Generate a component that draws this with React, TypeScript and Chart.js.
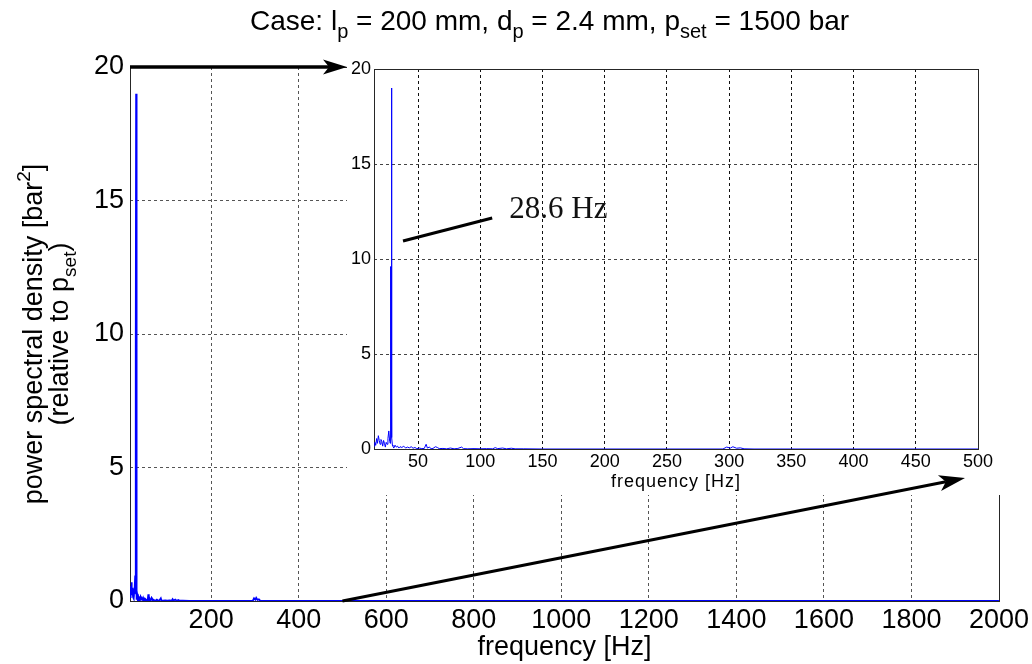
import React, { useEffect, useRef } from "react";
import { Chart, registerables } from "chart.js";

Chart.register(...registerables);

// ---------------- data ----------------
const frequencyHz = [
  14.6, 15.3, 16.0, 16.7, 17.4, 18.1, 18.8, 19.5, 20.2, 20.9,
  21.6, 22.3, 23.0, 23.7, 24.4, 25.1, 25.8, 26.5, 27.2, 27.6,
  27.9, 28.3, 28.6, 29.0, 29.4, 29.8, 30.5, 31.5, 32.5, 33.5,
  34.5, 35.5, 37, 38.5, 40, 41.5, 43, 44.5, 46, 47.5,
  49, 51, 53, 55, 56.5, 57.5, 59, 60.5, 62, 64,
  65.5, 67, 70, 73, 76, 79, 82, 85, 86.5, 90,
  95, 100, 105, 110, 112, 114, 118, 121, 125, 128,
  135, 150, 200, 250, 295, 298, 301, 303, 306, 309,
  312, 320, 500, 1000, 2000,
];
const psdRelative = [
  0.15, 0.35, 0.2, 0.55, 0.3, 0.7, 0.45, 0.25, 0.5, 0.4,
  0.15, 0.45, 0.3, 0.1, 0.35, 0.25, 0.55, 0.95, 0.4, 0.3,
  9.6, 9.5, 19.0, 0.6, 0.2, 0.15, 0.05, 0.2, 0.1, 0.15,
  0.05, 0.12, 0.08, 0.15, 0.05, 0.1, 0.06, 0.12, 0.04, 0.08,
  0.02, 0.05, 0.02, 0.03, 0.25, 0.05, 0.1, 0.02, 0.03, 0.12,
  0.08, 0.02, 0.03, 0.01, 0.05, 0.01, 0.03, 0.1, 0.02, 0.01,
  0.02, 0.01, 0.02, 0.01, 0.07, 0.02, 0.05, 0.01, 0.04, 0.01,
  0.01, 0, 0, 0, 0, 0.1, 0.05, 0.12, 0.04, 0.06,
  0.01, 0, 0, 0, 0,
];
const mainXTicks = [200, 400, 600, 800, 1000, 1200, 1400, 1600, 1800, 2000];
const insetXTicks = [50, 100, 150, 200, 250, 300, 350, 400, 450, 500];
const yTicks = [0, 5, 10, 15, 20];
const X_MIN = 14.6;
const MAIN_X_MAX = 2000;
const INSET_X_MAX = 500;
const Y_MIN = 0;
const Y_MAX = 20;

// annotation (data coords of the inset)
const peakLabel = "28.6 Hz";
const peakLineFrom = [37.9, 10.95];
const peakLineTo = [109.6, 12.16];
const peakTextAt = [123.3, 12.16];

type Part = { t: string; s?: "sub" | "sup" };
const titleParts: Part[] = [
  { t: "Case: l" }, { t: "p", s: "sub" }, { t: " = 200 mm, d" }, { t: "p", s: "sub" },
  { t: " = 2.4 mm, p" }, { t: "set", s: "sub" }, { t: " = 1500 bar" },
];
const yTitleLine1: Part[] = [{ t: "power spectral density [bar" }, { t: "2", s: "sup" }, { t: "]" }];
const yTitleLine2: Part[] = [{ t: "(relative to p" }, { t: "set", s: "sub" }, { t: ")" }];
const xTitle = "frequency [Hz]";

const W = 1032;
const H = 664;
const SANS = "'Liberation Sans', Arial, sans-serif";
const SERIF = "'Liberation Serif', 'Times New Roman', serif";

function drawRich(ctx: CanvasRenderingContext2D, parts: Part[], x: number, y: number, size: number, align: "center" | "left") {
  const small = Math.round(size * 0.7);
  const fN = `${size}px ${SANS}`;
  const fS = `${small}px ${SANS}`;
  let total = 0;
  const ws = parts.map((p) => {
    ctx.font = p.s ? fS : fN;
    const w = ctx.measureText(p.t).width;
    total += w;
    return w;
  });
  let cx = align === "center" ? x - total / 2 : x;
  ctx.textAlign = "left";
  ctx.textBaseline = "alphabetic";
  parts.forEach((p, i) => {
    ctx.font = p.s ? fS : fN;
    const dy = p.s === "sub" ? size * 0.3 : p.s === "sup" ? -size * 0.45 : 0;
    ctx.fillText(p.t, cx, y + dy);
    cx += ws[i];
  });
}

function drawArrow(ctx: CanvasRenderingContext2D, x1: number, y1: number, x2: number, y2: number, lw: number, len: number, half: number) {
  const a = Math.atan2(y2 - y1, x2 - x1);
  const c = Math.cos(a), s = Math.sin(a);
  const bx = x2 - len * c, by = y2 - len * s;
  const nx = x2 - len * 0.75 * c, ny = y2 - len * 0.75 * s;
  const px = -s, py = c;
  ctx.save();
  ctx.strokeStyle = "#000";
  ctx.fillStyle = "#000";
  ctx.lineWidth = lw;
  ctx.beginPath();
  ctx.moveTo(x1, y1);
  ctx.lineTo(nx, ny);
  ctx.stroke();
  ctx.beginPath();
  ctx.moveTo(x2, y2);
  ctx.lineTo(bx + px * half, by + py * half);
  ctx.lineTo(nx, ny);
  ctx.lineTo(bx - px * half, by - py * half);
  ctx.closePath();
  ctx.fill();
  ctx.restore();
}

const points = frequencyHz.map((f, i) => ({ x: f, y: psdRelative[i] }));
const plainLabel = (v: any) => String(v);

export default function App() {
  const mainRef = useRef<HTMLCanvasElement>(null);
  const insetRef = useRef<HTMLCanvasElement>(null);

  useEffect(() => {
    const mainPlugin = {
      id: "mainDeco",
      beforeDraw(chart: any) {
        const ctx = chart.ctx;
        ctx.save();
        ctx.fillStyle = "#fff";
        ctx.fillRect(0, 0, W, H);
        ctx.restore();
      },
      beforeDatasetsDraw(chart: any) {
        const { ctx, chartArea: a } = chart;
        ctx.save();
        ctx.strokeStyle = "#262626";
        ctx.lineWidth = 1;
        ctx.strokeRect(Math.round(a.left) + 0.5, Math.round(a.top) + 0.5, Math.round(a.right - a.left), Math.round(a.bottom - a.top));
        ctx.restore();
      },
      afterDraw(chart: any) {
        const { ctx, chartArea: a } = chart;
        ctx.save();
        ctx.fillStyle = "#000";
        const cy = (a.top + a.bottom) / 2;
        ctx.translate(0, cy);
        ctx.rotate(-Math.PI / 2);
        drawRich(ctx, yTitleLine1, 0, 42, 27, "center");
        drawRich(ctx, yTitleLine2, 0, 68, 27, "center");
        ctx.restore();
        ctx.save();
        ctx.fillStyle = "#000";
        ctx.font = `27px ${SANS}`;
        ctx.textAlign = "center";
        ctx.textBaseline = "alphabetic";
        ctx.fillText(xTitle, (a.left + a.right) / 2, 655);
        ctx.restore();
      },
    };

    const main = new Chart(mainRef.current as HTMLCanvasElement, {
      type: "line",
      data: {
        datasets: [
          { data: points, borderColor: "#0000ff", borderWidth: 1.8, pointRadius: 0, tension: 0, fill: false },
        ],
      },
      options: {
        responsive: false,
        animation: false,
        events: [],
        layout: { padding: { left: 0, top: 67, right: 32, bottom: 0 } },
        plugins: { legend: { display: false }, tooltip: { enabled: false }, title: { display: false } },
        scales: {
          x: {
            type: "linear",
            min: X_MIN,
            max: MAIN_X_MAX,
            afterBuildTicks: (s: any) => { s.ticks = mainXTicks.map((v) => ({ value: v })); },
            afterFit: (s: any) => { s.height = 63; },
            grid: {
              drawTicks: false,
              lineWidth: 1,
              color: (c: any) => (c.tick && c.tick.value === MAIN_X_MAX ? "rgba(0,0,0,0)" : "#555"),
            },
            border: { display: false, dash: [3, 3] },
            ticks: { color: "#000", font: { family: SANS, size: 27 }, padding: 3, maxRotation: 0, autoSkip: false, callback: plainLabel },
          },
          y: {
            type: "linear",
            min: Y_MIN,
            max: Y_MAX,
            afterBuildTicks: (s: any) => { s.ticks = yTicks.map((v) => ({ value: v })); },
            afterFit: (s: any) => { s.width = 130; },
            grid: {
              drawTicks: false,
              lineWidth: 1,
              color: (c: any) => (c.tick && (c.tick.value === Y_MIN || c.tick.value === Y_MAX) ? "rgba(0,0,0,0)" : "#555"),
            },
            border: { display: false, dash: [3, 3] },
            ticks: { color: "#000", font: { family: SANS, size: 27 }, padding: 6, autoSkip: false, callback: plainLabel },
          },
        },
      },
      plugins: [mainPlugin],
    } as any);

    const insetPlugin = {
      id: "insetDeco",
      beforeDraw(chart: any) {
        const ctx = chart.ctx;
        ctx.save();
        ctx.fillStyle = "#fff";
        ctx.fillRect(347, 50, W - 347, 495 - 50);
        ctx.restore();
      },
      beforeDatasetsDraw(chart: any) {
        const { ctx, chartArea: a } = chart;
        ctx.save();
        ctx.strokeStyle = "#262626";
        ctx.lineWidth = 1;
        ctx.strokeRect(Math.round(a.left) + 0.5, Math.round(a.top) + 0.5, Math.round(a.right - a.left), Math.round(a.bottom - a.top));
        ctx.restore();
      },
      afterDraw(chart: any) {
        const { ctx, chartArea: a, scales } = chart;
        const sx = scales.x, sy = scales.y;
        const mx = main.scales.x, my = main.scales.y;
        // inset x title
        ctx.save();
        ctx.fillStyle = "#000";
        ctx.font = `18px ${SANS}`;
        (ctx as any).letterSpacing = "1px";
        ctx.textAlign = "center";
        ctx.textBaseline = "alphabetic";
        ctx.fillText(xTitle, (a.left + a.right) / 2, 487);
        ctx.restore();
        // annotation
        ctx.save();
        ctx.strokeStyle = "#000";
        ctx.lineWidth = 3;
        ctx.beginPath();
        ctx.moveTo(sx.getPixelForValue(peakLineFrom[0]), sy.getPixelForValue(peakLineFrom[1]));
        ctx.lineTo(sx.getPixelForValue(peakLineTo[0]), sy.getPixelForValue(peakLineTo[1]));
        ctx.stroke();
        ctx.fillStyle = "#111";
        ctx.font = `31px ${SERIF}`;
        ctx.textAlign = "left";
        ctx.textBaseline = "alphabetic";
        ctx.fillText(peakLabel, sx.getPixelForValue(peakTextAt[0]), sy.getPixelForValue(peakTextAt[1]));
        ctx.restore();
        // title
        ctx.save();
        ctx.fillStyle = "#000";
        drawRich(ctx, titleParts, 250, 30, 28, "left");
        ctx.restore();
        // arrows
        const yTop = my.getPixelForValue(Y_MAX);
        drawArrow(ctx, mx.getPixelForValue(X_MIN), yTop, a.left - 27, yTop, 3.5, 24, 7.5);
        drawArrow(ctx, mx.getPixelForValue(INSET_X_MAX), my.getPixelForValue(0),
          sx.getPixelForValue(INSET_X_MAX) - 13, a.bottom + 29, 3, 26, 8);
      },
    };

    const inset = new Chart(insetRef.current as HTMLCanvasElement, {
      type: "line",
      data: {
        datasets: [
          { data: points, borderColor: "#0000ff", borderWidth: 1, pointRadius: 0, tension: 0, fill: false },
        ],
      },
      options: {
        responsive: false,
        animation: false,
        events: [],
        layout: { padding: { left: 334, top: 69, right: 54, bottom: 170 } },
        plugins: { legend: { display: false }, tooltip: { enabled: false }, title: { display: false } },
        scales: {
          x: {
            type: "linear",
            min: X_MIN,
            max: INSET_X_MAX,
            afterBuildTicks: (s: any) => { s.ticks = insetXTicks.map((v) => ({ value: v })); },
            afterFit: (s: any) => { s.height = 45; },
            grid: {
              drawTicks: false,
              lineWidth: 1,
              color: (c: any) => (c.tick && c.tick.value === INSET_X_MAX ? "rgba(0,0,0,0)" : "#111"),
            },
            border: { display: false, dash: [3, 3] },
            ticks: { color: "#000", font: { family: SANS, size: 18 }, padding: 2, maxRotation: 0, autoSkip: false, callback: plainLabel },
          },
          y: {
            type: "linear",
            min: Y_MIN,
            max: Y_MAX,
            afterBuildTicks: (s: any) => { s.ticks = yTicks.map((v) => ({ value: v })); },
            afterFit: (s: any) => { s.width = 40; },
            grid: {
              drawTicks: false,
              lineWidth: 1,
              color: (c: any) => (c.tick && (c.tick.value === Y_MIN || c.tick.value === Y_MAX) ? "rgba(0,0,0,0)" : "#444"),
            },
            border: { display: false, dash: [3, 3] },
            ticks: { color: "#000", font: { family: SANS, size: 18 }, padding: 3, autoSkip: false, callback: plainLabel },
          },
        },
      },
      plugins: [insetPlugin],
    } as any);

    return () => {
      inset.destroy();
      main.destroy();
    };
  }, []);

  return (
    <div style={{ position: "absolute", left: 0, top: 0, width: W, height: H, background: "#fff" }}>
      <canvas ref={mainRef} width={W} height={H} style={{ position: "absolute", left: 0, top: 0, width: W, height: H }} />
      <canvas ref={insetRef} width={W} height={H} style={{ position: "absolute", left: 0, top: 0, width: W, height: H }} />
    </div>
  );
}
